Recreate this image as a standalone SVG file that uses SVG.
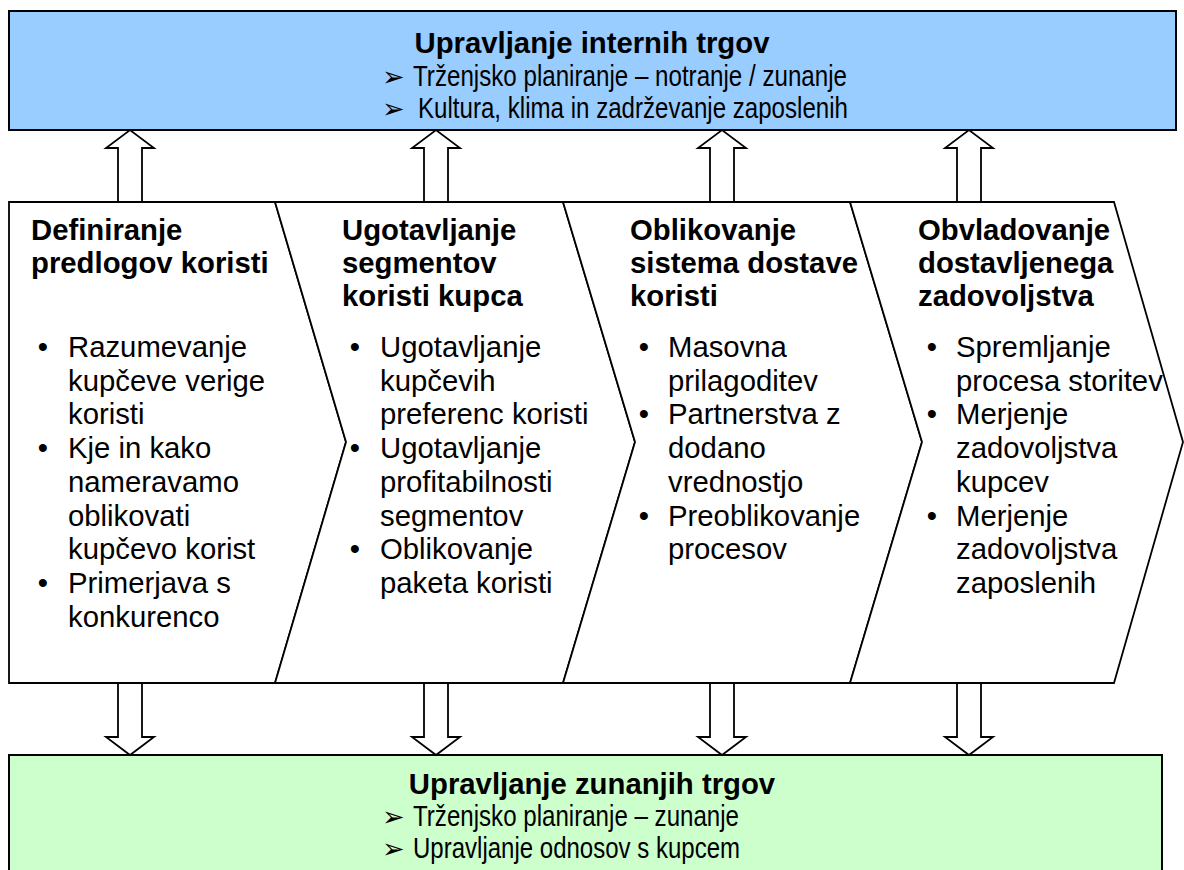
<svg xmlns="http://www.w3.org/2000/svg" width="1184" height="870" viewBox="0 0 1184 870">
<style>
.box{stroke:#000;stroke-width:2}
.chev{fill:#fff;stroke:#000;stroke-width:1.8;stroke-linejoin:miter}
.arr{fill:#fff;stroke:#000;stroke-width:1.8;stroke-linejoin:miter}
text{font-family:"Liberation Sans",Arial,sans-serif;font-size:29.3px;fill:#000}
.b{font-weight:bold}
.c{text-anchor:middle}
.ab{font-family:"DejaVu Sans",sans-serif;font-size:27px}
</style>
<rect width="1184" height="870" fill="#fff"/>
<g id="internal">
<rect class="box" x="9" y="11" width="1167" height="119" fill="#99CCFF"/>
<text class="b c" x="592" y="53">Upravljanje internih trgov</text>
<text class="ab" x="382" y="86">➢</text>
<text x="413" y="86" textLength="434" lengthAdjust="spacingAndGlyphs">Trženjsko planiranje – notranje / zunanje</text>
<text class="ab" x="382" y="118">➢</text>
<text x="418" y="118" textLength="430" lengthAdjust="spacingAndGlyphs">Kultura, klima in zadrževanje zaposlenih</text>
</g>
<g id="external">
<rect class="box" x="9" y="755" width="1153" height="125" fill="#CCFFCC"/>
<text class="b c" x="592" y="794">Upravljanje zunanjih trgov</text>
<text class="ab" x="382" y="826">➢</text>
<text x="413" y="826" textLength="326" lengthAdjust="spacingAndGlyphs">Trženjsko planiranje – zunanje</text>
<text class="ab" x="382" y="858">➢</text>
<text x="413" y="858" textLength="327" lengthAdjust="spacingAndGlyphs">Upravljanje odnosov s kupcem</text>
</g>
<g id="connectors">
<path class="arr" d="M118,202 V148 H106 L130,130 L154,148 H142 V202 Z"/>
<path class="arr" d="M424,202 V148 H412 L436,130 L460,148 H448 V202 Z"/>
<path class="arr" d="M710,202 V148 H698 L722,130 L746,148 H734 V202 Z"/>
<path class="arr" d="M957,202 V148 H945 L969,130 L993,148 H981 V202 Z"/>
<path class="arr" d="M118,683 V737 H106 L130,755 L154,737 H142 V683 Z"/>
<path class="arr" d="M424,683 V737 H412 L436,755 L460,737 H448 V683 Z"/>
<path class="arr" d="M710,683 V737 H698 L722,755 L746,737 H734 V683 Z"/>
<path class="arr" d="M957,683 V737 H945 L969,755 L993,737 H981 V683 Z"/>
</g>
<g id="step1">
<polygon class="chev" points="9,202 275,202 346,442 275,683 9,683"/>
<text class="b" x="31" y="240">Definiranje</text>
<text class="b" x="31" y="273">predlogov koristi</text>
<text class="c" x="43" y="357">•</text>
<text x="68" y="357">Razumevanje</text>
<text x="68" y="390.7">kupčeve verige</text>
<text x="68" y="424.4">koristi</text>
<text class="c" x="43" y="458.1">•</text>
<text x="68" y="458.1">Kje in kako</text>
<text x="68" y="491.8">nameravamo</text>
<text x="68" y="525.5">oblikovati</text>
<text x="68" y="559.2">kupčevo korist</text>
<text class="c" x="43" y="592.9">•</text>
<text x="68" y="592.9">Primerjava s</text>
<text x="68" y="626.6">konkurenco</text>
</g>
<g id="step2">
<polygon class="chev" points="275,202 563,202 635,442 563,683 275,683 346,442"/>
<text class="b" x="342" y="240">Ugotavljanje</text>
<text class="b" x="342" y="273">segmentov</text>
<text class="b" x="342" y="306">koristi kupca</text>
<text class="c" x="355" y="357">•</text>
<text x="380" y="357">Ugotavljanje</text>
<text x="380" y="390.7">kupčevih</text>
<text x="380" y="424.4">preferenc koristi</text>
<text class="c" x="355" y="458.1">•</text>
<text x="380" y="458.1">Ugotavljanje</text>
<text x="380" y="491.8">profitabilnosti</text>
<text x="380" y="525.5">segmentov</text>
<text class="c" x="355" y="559.2">•</text>
<text x="380" y="559.2">Oblikovanje</text>
<text x="380" y="592.9">paketa koristi</text>
</g>
<g id="step3">
<polygon class="chev" points="563,202 850,202 922,442 850,683 563,683 635,442"/>
<text class="b" x="630" y="240">Oblikovanje</text>
<text class="b" x="630" y="273">sistema dostave</text>
<text class="b" x="630" y="306">koristi</text>
<text class="c" x="644" y="357">•</text>
<text x="668" y="357">Masovna</text>
<text x="668" y="390.7">prilagoditev</text>
<text class="c" x="644" y="424.4">•</text>
<text x="668" y="424.4">Partnerstva z</text>
<text x="668" y="458.1">dodano</text>
<text x="668" y="491.8">vrednostjo</text>
<text class="c" x="644" y="525.5">•</text>
<text x="668" y="525.5">Preoblikovanje</text>
<text x="668" y="559.2">procesov</text>
</g>
<g id="step4">
<polygon class="chev" points="850,202 1114,202 1183,442 1114,683 850,683 922,442"/>
<text class="b" x="918" y="240">Obvladovanje</text>
<text class="b" x="918" y="273">dostavljenega</text>
<text class="b" x="918" y="306">zadovoljstva</text>
<text class="c" x="932" y="357">•</text>
<text x="956" y="357">Spremljanje</text>
<text x="956" y="390.7">procesa storitev</text>
<text class="c" x="932" y="424.4">•</text>
<text x="956" y="424.4">Merjenje</text>
<text x="956" y="458.1">zadovoljstva</text>
<text x="956" y="491.8">kupcev</text>
<text class="c" x="932" y="525.5">•</text>
<text x="956" y="525.5">Merjenje</text>
<text x="956" y="559.2">zadovoljstva</text>
<text x="956" y="592.9">zaposlenih</text>
</g>
</svg>
